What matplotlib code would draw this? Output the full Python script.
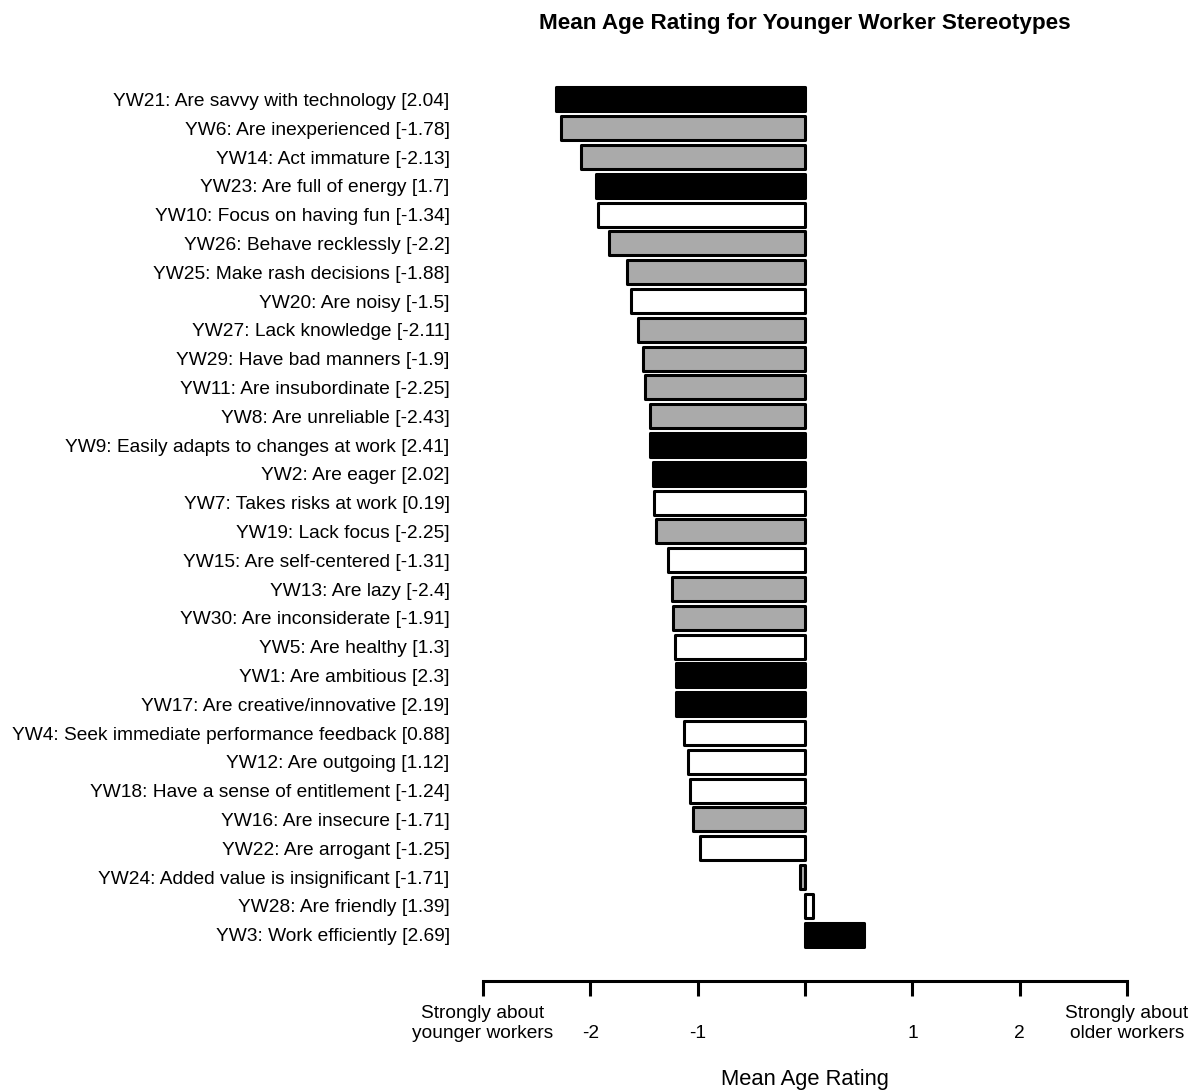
"""Mean age rating for younger worker stereotypes (horizontal bar chart)."""

import matplotlib

matplotlib.use("Agg")
import matplotlib.pyplot as plt

plt.rcParams["font.family"] = ["Liberation Sans", "DejaVu Sans"]

labels = [
    "YW21: Are savvy with technology [2.04]",
    "YW6: Are inexperienced [-1.78]",
    "YW14: Act immature [-2.13]",
    "YW23: Are full of energy [1.7]",
    "YW10: Focus on having fun [-1.34]",
    "YW26: Behave recklessly [-2.2]",
    "YW25: Make rash decisions [-1.88]",
    "YW20: Are noisy [-1.5]",
    "YW27: Lack knowledge [-2.11]",
    "YW29: Have bad manners [-1.9]",
    "YW11: Are insubordinate [-2.25]",
    "YW8: Are unreliable [-2.43]",
    "YW9: Easily adapts to changes at work [2.41]",
    "YW2: Are eager [2.02]",
    "YW7: Takes risks at work [0.19]",
    "YW19: Lack focus [-2.25]",
    "YW15: Are self-centered [-1.31]",
    "YW13: Are lazy [-2.4]",
    "YW30: Are inconsiderate [-1.91]",
    "YW5: Are healthy [1.3]",
    "YW1: Are ambitious [2.3]",
    "YW17: Are creative/innovative [2.19]",
    "YW4: Seek immediate performance feedback [0.88]",
    "YW12: Are outgoing [1.12]",
    "YW18: Have a sense of entitlement [-1.24]",
    "YW16: Are insecure [-1.71]",
    "YW22: Are arrogant [-1.25]",
    "YW24: Added value is insignificant [-1.71]",
    "YW28: Are friendly [1.39]",
    "YW3: Work efficiently [2.69]",
]

mean_age = [
    -2.32, -2.27, -2.09, -1.95, -1.93, -1.83, -1.66, -1.62, -1.56, -1.51,
    -1.49, -1.44, -1.44, -1.42, -1.41, -1.39, -1.28, -1.24, -1.23, -1.21,
    -1.20, -1.20, -1.13, -1.09, -1.07, -1.04, -0.98, -0.05, 0.07, 0.55,
]

# "pos" = positive stereotype, "neg" = negative, "neu" = neutral
valence = [
    "pos", "neg", "neg", "pos", "neu", "neg", "neg", "neu", "neg", "neg",
    "neg", "neg", "pos", "pos", "neu", "neg", "neu", "neg", "neg", "neu",
    "pos", "pos", "neu", "neu", "neu", "neg", "neu", "neg", "neu", "pos",
]

fill = {"pos": "black", "neg": "#aaaaaa", "neu": "white"}

tick_vals = [-3, -2, -1, 0, 1, 2, 3]
tick_text = ["Strongly about\nyounger workers", "\n-2", "\n-1", "", "\n1", "\n2",
             "Strongly about\nolder workers"]

W, H = 1192, 1091
fig = plt.figure(figsize=(W / 100, H / 100), dpi=100)
ax = fig.add_axes([483 / W, 1 - 949 / H, (1127 - 483) / W, (949 - 85) / H])

ypos = list(range(len(labels)))
ax.barh(ypos, mean_age, height=0.83, color=[fill[v] for v in valence],
        edgecolor="black", linewidth=2.2, joinstyle="round")

ax.set_xlim(-3, 3)
ax.set_ylim(len(labels) - 0.5, -0.5)

ax.set_yticks(ypos)
ax.set_yticklabels(labels, fontsize=13.8)
ax.tick_params(axis="y", length=0, pad=24)

for s in ["top", "right", "left"]:
    ax.spines[s].set_visible(False)
ax.spines["bottom"].set_position(("outward", 23))
ax.spines["bottom"].set_bounds(-3, 3)
ax.spines["bottom"].set_linewidth(2.2)
ax.set_xticks(tick_vals)
ax.set_xticklabels(tick_text, fontsize=13.8, linespacing=1.3)
ax.tick_params(axis="x", length=11, width=2.2, pad=6)

fig.text(805 / W, 1 - 23 / H, "Mean Age Rating for Younger Worker Stereotypes",
         ha="center", va="center", fontsize=16.2, fontweight="bold")
fig.text(805 / W, 1 - 1080 / H, "Mean Age Rating", ha="center", va="center",
         fontsize=15.8)

fig.savefig("out.png", dpi=100)
